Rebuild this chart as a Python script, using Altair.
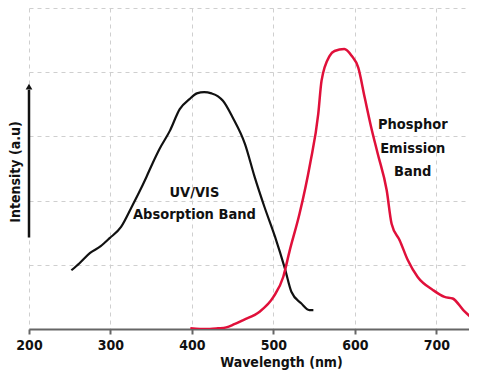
import altair as alt
import pandas as pd

# UV/VIS absorption band (black)
abs_wl = [252, 262, 275, 288, 299, 313, 326, 335, 344, 352, 360, 373, 385, 397, 406, 415, 424, 432, 438, 450, 465, 477, 489, 502, 514, 522, 534, 544, 549]
abs_int = [18.3, 20.5, 23.7, 25.8, 28.3, 31.8, 38, 42.5, 47.3, 51.8, 56, 61.8, 68.5, 71.6, 73.4, 73.8, 73.4, 72.5, 71.1, 65.9, 57.7, 47.3, 38, 28.7, 18.9, 11.6, 8.0, 5.9, 5.9]

# Phosphor emission band (red)
em_wl = [398, 410, 422, 432, 442, 452, 463, 483, 500, 512, 520, 532, 545, 555, 559, 569, 575, 587, 596, 604, 612, 620, 628, 639, 645, 655, 665, 677, 696, 710, 720, 733, 745, 750]
em_int = [0.2, 0.0, 0.0, 0.2, 0.5, 1.5, 2.8, 5.4, 10, 16.2, 24.5, 35.9, 51.5, 67, 77.3, 85.1, 86.6, 87.2, 85.1, 81.5, 72.1, 62.8, 54.6, 43.2, 32.8, 27.6, 21.4, 16.2, 12.1, 10, 9.5, 5.9, 3.0, 1.8]

x_ticks = [200, 300, 400, 500, 600, 700]
y_ticks = [0, 20, 40, 60, 80, 100]

labels_text = ["UV/VIS", "Absorption Band", "Phosphor", "Emission", "Band"]
labels_wl = [403, 403, 671, 671, 671]
labels_int = [42.5, 35.5, 63.5, 56.0, 49.0]

title_text = "Operation Range for UV"
y_title = "Intensity (a.u)"
x_title = "Wavelength (nm)"

FONT = "DejaVu Sans Condensed, DejaVu Sans, sans-serif"

abs_df = pd.DataFrame({"wl": abs_wl, "I": abs_int})
em_df = pd.DataFrame({"wl": em_wl, "I": em_int})
lab_df = pd.DataFrame({"wl": labels_wl, "I": labels_int, "t": labels_text})

xs = alt.Scale(domain=[200, 740], nice=False, zero=False)
ys = alt.Scale(domain=[0, 100], nice=False)

x_axis = alt.Axis(values=x_ticks, title=x_title, grid=True, gridDash=[4, 4], gridColor="#cfcfcf",
                  gridWidth=1, domainColor="#666666", domainWidth=2, tickColor="#666666", tickWidth=2,
                  tickSize=5, labelFont=FONT, labelFontSize=14, labelFontWeight="bold", labelColor="#111111",
                  labelPadding=4, labelFlush=False, titleFont=FONT, titleFontSize=14, titleFontWeight="bold",
                  titleColor="#111111", titleX=252, titlePadding=3)
y_axis = alt.Axis(values=y_ticks, title=None, grid=True, gridDash=[4, 4], gridColor="#cfcfcf",
                  gridWidth=1, domain=False, ticks=False, labels=False)

base_abs = alt.Chart(abs_df).mark_line(color="#111111", strokeWidth=2.2, interpolate="monotone").encode(
    x=alt.X("wl:Q", scale=xs, axis=x_axis),
    y=alt.Y("I:Q", scale=ys, axis=y_axis),
)
base_em = alt.Chart(em_df).mark_line(color="#e0103a", strokeWidth=2.5, interpolate="monotone", clip=True).encode(
    x=alt.X("wl:Q", scale=xs),
    y=alt.Y("I:Q", scale=ys),
)
labels = alt.Chart(lab_df).mark_text(font=FONT, fontSize=14.5, fontWeight="bold", color="#111111",
                                     align="center", baseline="middle").encode(
    x=alt.X("wl:Q", scale=xs),
    y=alt.Y("I:Q", scale=ys),
    text="t:N",
)

arrow_df = pd.DataFrame({"x": [200], "y1": [28.5], "y2": [74.5]})
arrow_line = alt.Chart(arrow_df).mark_rule(color="#111111", strokeWidth=2.5).encode(
    x=alt.X("x:Q", scale=xs), y=alt.Y("y1:Q", scale=ys), y2="y2:Q"
)
arrow_head = alt.Chart(pd.DataFrame({"x": [200], "y": [75.5]})).mark_point(
    shape="triangle-up", filled=True, color="#111111", size=45, opacity=1).encode(
    x=alt.X("x:Q", scale=xs), y=alt.Y("y:Q", scale=ys)
)
ytitle = alt.Chart(pd.DataFrame({"t": [y_title]})).mark_text(
    font=FONT, fontSize=14, fontWeight="bold", color="#111111", angle=270,
    align="center", baseline="middle").encode(
    x=alt.value(-13), y=alt.value(164), text="t:N"
)

chart = alt.layer(base_abs, base_em, labels, arrow_line, arrow_head, ytitle).properties(
    width=440, height=321,
    title=alt.TitleParams(title_text, font=FONT, fontSize=16, fontWeight="bold", color="#111111", offset=2),
    autosize=alt.AutoSizeParams(type="none"),
    padding={"left": 21, "top": 0, "right": 0, "bottom": 46},
).configure_view(stroke=None)

chart.save("out.html", embed_options={"renderer": "svg", "actions": False})
